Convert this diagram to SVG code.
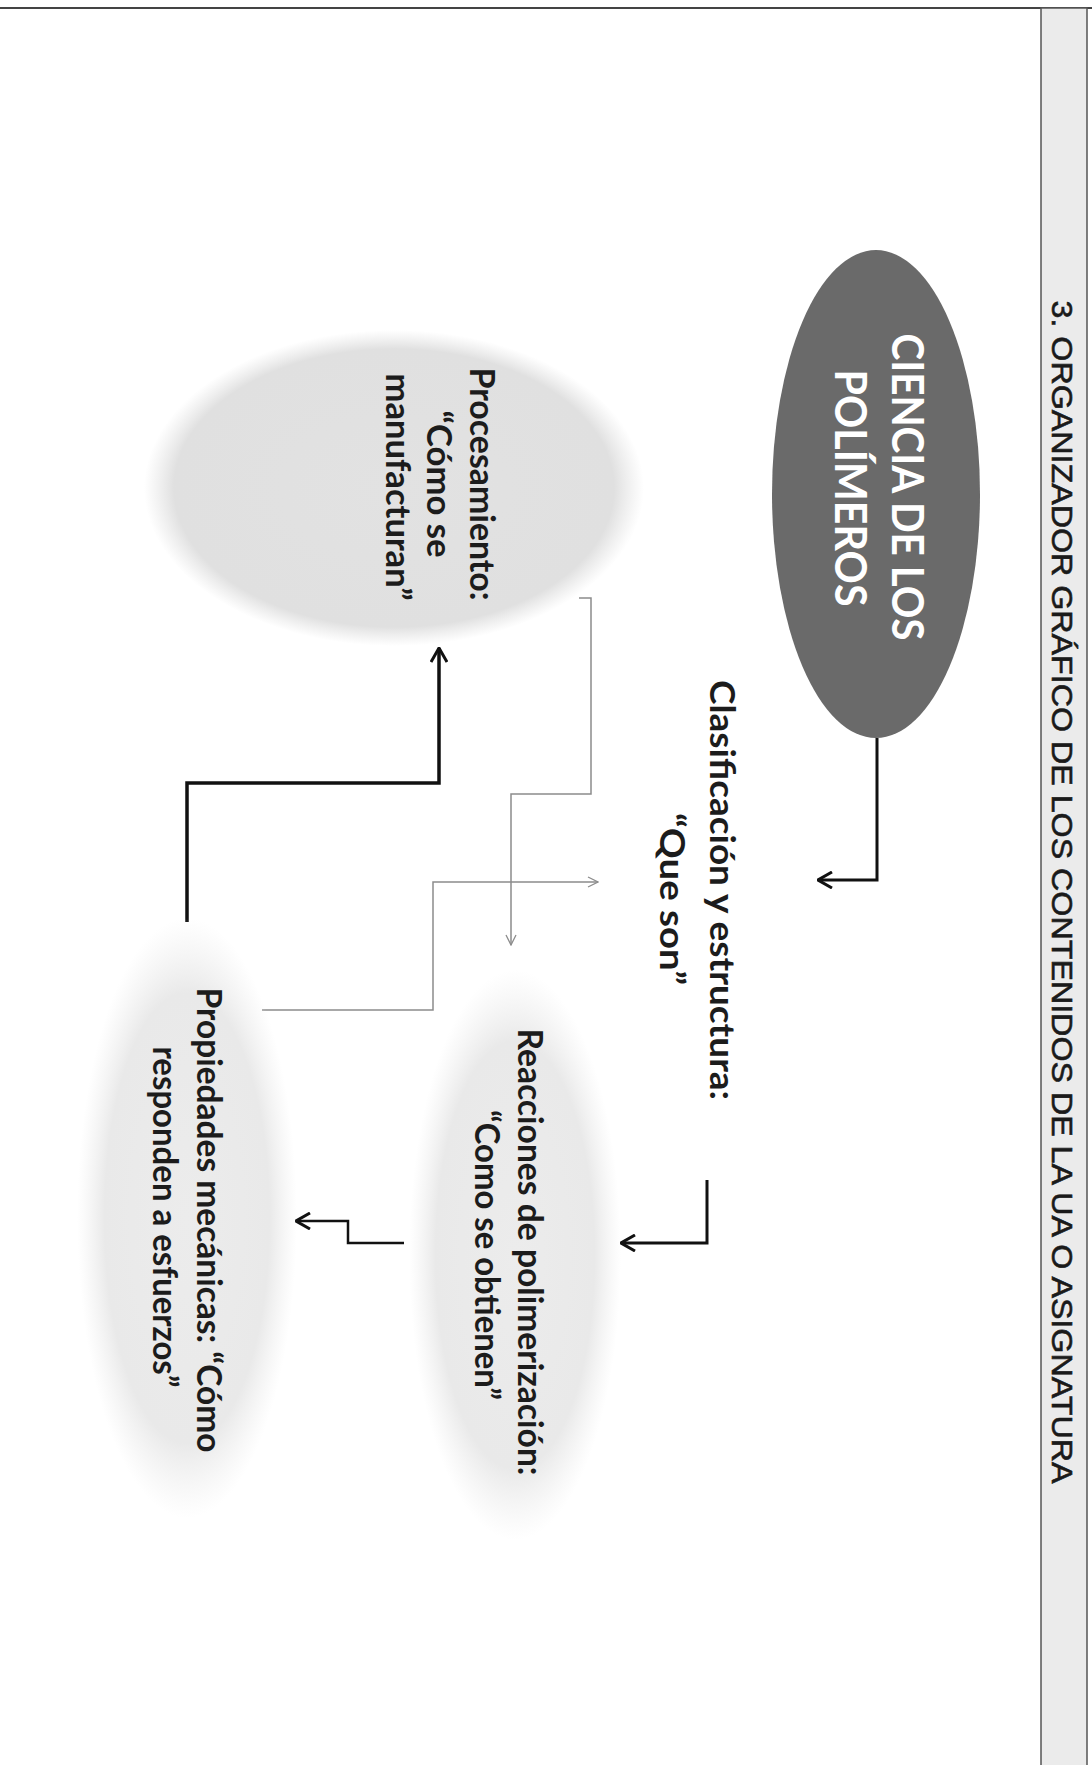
<svg xmlns="http://www.w3.org/2000/svg" width="1092" height="1765" viewBox="0 0 1092 1765">
<style>
.ttl{font-family:"Liberation Sans",Arial,sans-serif;font-size:30px;fill:#1a1a1a;stroke:#1a1a1a;stroke-width:0.6;text-anchor:middle}
.nt{font-family:Lato,"Open Sans","Liberation Sans",sans-serif;font-weight:bold;font-size:34px;fill:#1c1c1c;text-anchor:middle}
.wt{font-family:Lato,"Open Sans","Liberation Sans",sans-serif;font-weight:bold;font-size:44px;fill:#ffffff;text-anchor:middle}
.blk{fill:none;stroke:#111;stroke-linejoin:miter}
.gry{fill:none;stroke:#8c8c8c;stroke-width:1.5}
</style>
<defs>
<radialGradient id="soft" cx="0.5" cy="0.5" r="0.5">
<stop offset="0" stop-color="#e2e2e2"/>
<stop offset="0.88" stop-color="#e0e0e0"/>
<stop offset="1" stop-color="#e4e4e4" stop-opacity="0"/>
</radialGradient>
<radialGradient id="soft2" cx="0.5" cy="0.5" r="0.5">
<stop offset="0" stop-color="#ececec"/>
<stop offset="0.75" stop-color="#e9e9e9"/>
<stop offset="1" stop-color="#eeeeee" stop-opacity="0"/>
</radialGradient>
<marker id="ah" markerUnits="userSpaceOnUse" viewBox="0 0 16 18" refX="15" refY="9" markerWidth="16" markerHeight="18" orient="auto">
<path d="M1,1 L15,9 L1,17" fill="none" stroke="#111" stroke-width="3"/>
</marker>
<marker id="ag" markerUnits="userSpaceOnUse" viewBox="0 0 12 12" refX="11" refY="6" markerWidth="12" markerHeight="12" orient="auto">
<path d="M1,1 L11,6 L1,11" fill="none" stroke="#8c8c8c" stroke-width="1.3"/>
</marker>
</defs>
<rect x="0" y="0" width="1092" height="1765" fill="#ffffff"/>

<g id="frame">
<line x1="0" y1="8" x2="1092" y2="8" stroke="#444" stroke-width="2"/>
<rect x="1041" y="8" width="46" height="1760" fill="#ebebeb" stroke="#555" stroke-width="1.5"/>
<text class="ttl" transform="translate(1052,892) rotate(90)" textLength="1183" lengthAdjust="spacingAndGlyphs">3. ORGANIZADOR GRÁFICO DE LOS CONTENIDOS DE LA UA O ASIGNATURA</text>
</g>

<g id="connectors">
<path class="blk" stroke-width="3" d="M877,738 L877,880 L818,880" marker-end="url(#ah)"/>
<path class="blk" stroke-width="3" d="M707,1180 L707,1243 L621,1243" marker-end="url(#ah)"/>
<path class="blk" stroke-width="2.5" d="M404,1243 L348,1243 L348,1221 L296,1221" marker-end="url(#ah)"/>
<path class="blk" stroke-width="3.5" d="M187,922 L187,783 L439,783 L439,648" marker-end="url(#ah)"/>
<path class="gry" d="M579,598 L591,598 L591,794 L511,794 L511,945" marker-end="url(#ag)"/>
<path class="gry" d="M262,1010 L433,1010 L433,882 L598,882" marker-end="url(#ag)"/>
</g>

<g id="node-ciencia">
<ellipse cx="876" cy="494" rx="104" ry="244" fill="#6a6a6a"/>
<text class="wt" transform="translate(892,487) rotate(90)" textLength="307" lengthAdjust="spacingAndGlyphs">CIENCIA DE LOS</text>
<text class="wt" transform="translate(835,488) rotate(90)" textLength="237" lengthAdjust="spacingAndGlyphs">POLÍMEROS</text>
</g>

<g id="node-clasificacion">
<text class="nt" transform="translate(710,890) rotate(90)" textLength="420" lengthAdjust="spacingAndGlyphs">Clasificación y estructura:</text>
<text class="nt" transform="translate(660,899) rotate(90)" textLength="172" lengthAdjust="spacingAndGlyphs">“Que son”</text>
</g>

<g id="node-procesamiento">
<ellipse cx="394" cy="488" rx="250" ry="158" fill="url(#soft)"/>
<text class="nt" transform="translate(470,484) rotate(90)" textLength="233" lengthAdjust="spacingAndGlyphs">Procesamiento:</text>
<text class="nt" transform="translate(427,484) rotate(90)" textLength="147" lengthAdjust="spacingAndGlyphs">“Cómo se</text>
<text class="nt" transform="translate(386,487) rotate(90)" textLength="227" lengthAdjust="spacingAndGlyphs">manufacturan”</text>
</g>

<g id="node-reacciones">
<ellipse cx="515" cy="1255" rx="106" ry="285" fill="url(#soft2)"/>
<text class="nt" transform="translate(518,1252) rotate(90)" textLength="447" lengthAdjust="spacingAndGlyphs">Reacciones de polimerización:</text>
<text class="nt" transform="translate(475,1255) rotate(90)" textLength="290" lengthAdjust="spacingAndGlyphs">“Como se obtienen”</text>
</g>

<g id="node-propiedades">
<ellipse cx="187" cy="1218" rx="110" ry="300" fill="url(#soft2)"/>
<text class="nt" transform="translate(197,1220) rotate(90)" textLength="465" lengthAdjust="spacingAndGlyphs">Propiedades mecánicas: “Cómo</text>
<text class="nt" transform="translate(153,1217) rotate(90)" textLength="341" lengthAdjust="spacingAndGlyphs">responden a esfuerzos”</text>
</g>
</svg>
